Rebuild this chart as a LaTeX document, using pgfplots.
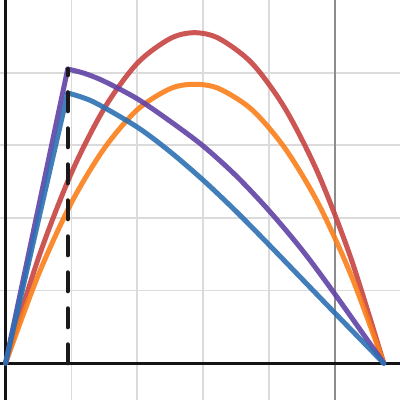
\documentclass[border=0pt]{standalone}
\usepackage{pgfplots}
\pgfplotsset{compat=1.18}
\definecolor{dred}{HTML}{C74440}
\definecolor{dblue}{HTML}{2D70B3}
\definecolor{dpurple}{HTML}{6042A6}
\definecolor{dorange}{HTML}{FA7E19}
\begin{document}
\begin{tikzpicture}
\begin{axis}[
  scale only axis, width=400bp, height=400bp,
  xmin=-0.0835, xmax=5.986, ymin=-0.505, ymax=5.0,
  axis line style={draw=none},
  xtick={1,2,3,4}, ytick={1,2,3,4},
  extra x ticks={5}, extra x tick style={grid style={draw=black!45, line width=1.6bp}, xticklabels={}},
  xticklabels={}, yticklabels={},
  tick style={draw=none},
  grid=major, grid style={draw=black!14, line width=1.7bp},
  clip=true,
]
\draw[black!92, line width=3bp] (axis cs:0,-0.505) -- (axis cs:0,5.0);
\draw[black!92, line width=3bp] (axis cs:-0.0835,0) -- (axis cs:5.986,0);
% red
\addplot[dred, opacity=0.9, line width=5bp, smooth] coordinates {
(0,0) (0.5,1.45) (1.0,2.62) (1.5,3.51) (2.0,4.13) (2.5,4.47) (2.87,4.55)
(3.24,4.47) (3.74,4.13) (4.24,3.51) (4.74,2.62) (5.24,1.45) (5.74,0)};
% orange
\addplot[dorange, opacity=0.9, line width=5bp, smooth] coordinates {
(0,0) (0.5,1.22) (1.0,2.21) (1.5,2.96) (2.0,3.49) (2.5,3.78) (2.87,3.84)
(3.24,3.78) (3.74,3.49) (4.24,2.96) (4.74,2.21) (5.24,1.22) (5.74,0)};
% purple
\addplot[dpurple, opacity=0.9, line width=5bp, line cap=round] coordinates {(0,0) (0.944,4.05)};
\addplot[dpurple, opacity=0.9, line width=5bp, smooth, line cap=round] coordinates {
(0.944,4.05) (1.2,3.99) (1.5,3.88) (2.0,3.64) (2.5,3.33) (3.0,2.99) (3.5,2.58)
(4.0,2.10) (4.5,1.56) (5.0,0.95) (5.74,0)};
% blue
\addplot[dblue, opacity=0.9, line width=5bp, line cap=round] coordinates {(0,0) (0.944,3.72)};
\addplot[dblue, opacity=0.9, line width=5bp, smooth, line cap=round] coordinates {
(0.944,3.72) (1.33,3.60) (2.0,3.25) (2.5,2.91) (3.0,2.52) (3.5,2.09) (4.0,1.63)
(4.5,1.16) (5.0,0.69) (5.74,0)};
% dashed
\addplot[black!90, line width=4bp, line cap=round, dash pattern=on 19bp off 17bp] coordinates {(0.944,0) (0.944,4.05)};
\end{axis}
\pgfresetboundingbox
\useasboundingbox (current axis.south west) rectangle (current axis.north east);
\end{tikzpicture}
\end{document}
